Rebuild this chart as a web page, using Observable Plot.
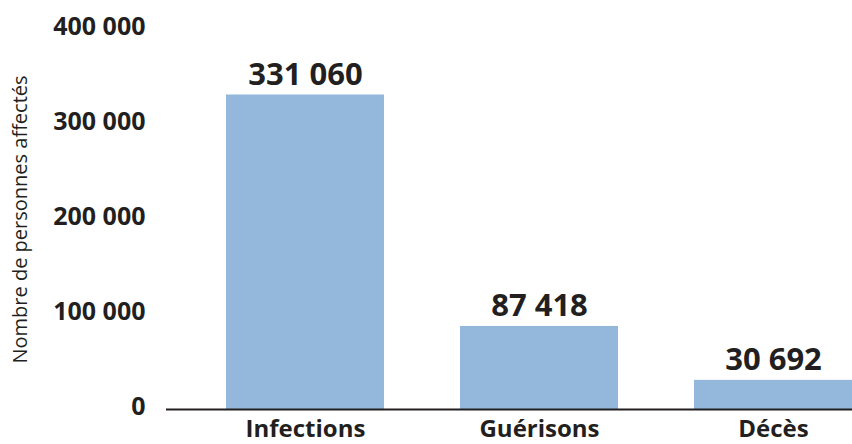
<!DOCTYPE html>
<html>
<head>
<meta charset="utf-8">
<script src="https://cdn.jsdelivr.net/npm/d3@7"></script>
<script src="https://cdn.jsdelivr.net/npm/@observablehq/plot@0.6"></script>
<style>
  html, body { margin: 0; padding: 0; background: #fff; }
  #chart svg { display: block; font-family: "Open Sans", sans-serif; }
</style>
</head>
<body>
<div id="chart"></div>
<script>
const categories = ["Infections", "Guérisons", "Décès"];
const values = [331060, 87418, 30692];
const yTicks = [0, 100000, 200000, 300000, 400000];
const yTitle = "Nombre de personnes affectés";

const data = categories.map((c, i) => ({ category: c, value: values[i] }));
const fmt = d => d3.format(",")(d).replace(/,/g, " ");

const chart = Plot.plot({
  width: 852,
  height: 444,
  marginTop: 29,
  marginBottom: 35,
  marginLeft: 166,
  marginRight: 0,
  style: { fontFamily: "Open Sans, sans-serif", color: "#231f20", background: "#fff" },
  x: { domain: categories, range: [225, 854], paddingInner: 0.323, paddingOuter: 0, label: null },
  y: { domain: [0, 400000], label: null },
  marks: [
    Plot.barY(data, { x: "category", y: "value", fill: "#93b8dc" }),
    Plot.ruleY([0], { stroke: "#231f20", strokeWidth: 2 }),
    Plot.text(data, {
      x: "category", y: "value", text: d => fmt(d.value),
      lineAnchor: "bottom", dy: -10,
      fontSize: 31, fontWeight: "bold", fill: "#231f20"
    }),
    Plot.axisY({
      ticks: yTicks, tickFormat: fmt, tickSize: 0, tickPadding: 21,
      fontSize: 25, fontWeight: "bold", dy: -3, label: null, fill: "#231f20"
    }),
    Plot.axisX({
      tickSize: 0, tickPadding: 10, fontSize: 24, fontWeight: "bold",
      label: null, fill: "#231f20"
    }),
    Plot.text([yTitle], {
      frameAnchor: "left", x: null, y: null, dx: -146, text: d => d,
      textAnchor: "middle", rotate: -90, fontSize: 20, fill: "#231f20"
    })
  ]
});
document.getElementById("chart").appendChild(chart);
</script>
</body>
</html>
